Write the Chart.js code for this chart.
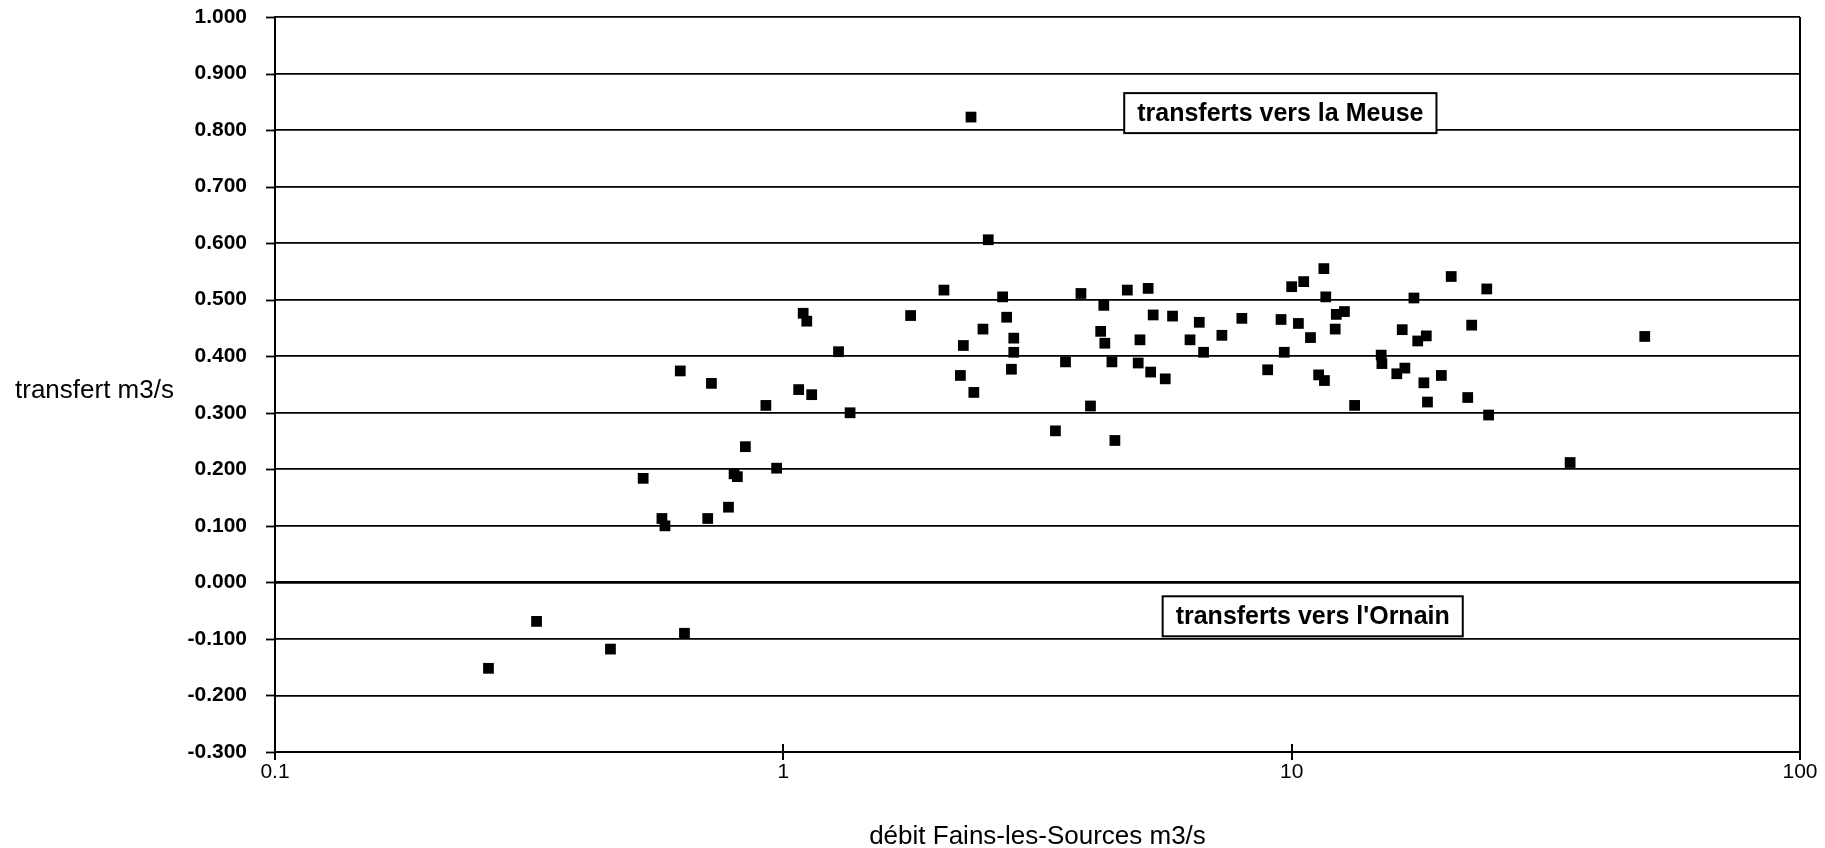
<!DOCTYPE html>
<html lang="fr">
<head>
<meta charset="utf-8">
<title>transfert m3/s</title>
<script src="https://cdn.jsdelivr.net/npm/chart.js@4.4.1/dist/chart.umd.min.js"></script>
<style>
    html, body { margin: 0; padding: 0; background: #fff; }
    #wrap { width: 1825px; height: 848px; }
</style>
</head>
<body>
<div id="wrap"><canvas id="transfertChart" width="1825" height="848"></canvas></div>
<script>
// --- Data ---
const debit = [0.263, 0.327, 0.457, 0.639, 0.530, 0.577, 0.585, 0.710, 0.780, 0.800, 0.812, 0.842, 0.970,
    0.627, 0.722, 0.924, 1.072, 1.137, 1.094, 1.112, 1.284, 1.353,
    1.78, 2.07, 2.34, 2.53, 2.26, 2.23, 2.37, 2.47, 2.70, 2.75,
    2.84, 2.84, 2.81, 3.43, 3.59, 3.85, 4.02, 4.21, 4.27, 4.29,
    4.43, 4.49, 4.75, 5.03, 4.99, 5.22, 5.28, 5.34, 5.64, 5.83,
    6.31, 6.58, 6.71, 7.29, 7.98, 8.97, 9.53, 9.67, 10.0, 10.56,
    10.31, 10.89, 11.3, 11.6, 11.57, 11.67, 12.18, 12.24, 12.7, 13.3,
    15.0, 15.05, 16.1, 16.5, 16.7, 17.4, 17.7, 18.4, 18.2, 18.5,
    19.7, 20.6, 22.2, 22.6, 24.2, 24.4, 35.3, 49.5];
const transfert = [-0.152, -0.069, -0.118, -0.090, 0.184, 0.113, 0.100, 0.113, 0.133, 0.192, 0.187, 0.240, 0.202,
    0.374, 0.352, 0.313, 0.341, 0.332, 0.476, 0.462, 0.408, 0.300,
    0.472, 0.517, 0.823, 0.606, 0.419, 0.366, 0.336, 0.448, 0.505, 0.469,
    0.432, 0.407, 0.377, 0.268, 0.390, 0.511, 0.312, 0.444, 0.490, 0.423,
    0.390, 0.251, 0.517, 0.429, 0.388, 0.520, 0.372, 0.473, 0.360, 0.471,
    0.429, 0.460, 0.407, 0.437, 0.467, 0.376, 0.465, 0.407, 0.523, 0.532,
    0.458, 0.433, 0.367, 0.357, 0.555, 0.505, 0.448, 0.474, 0.479, 0.313,
    0.402, 0.387, 0.369, 0.447, 0.379, 0.503, 0.427, 0.436, 0.353, 0.319,
    0.366, 0.541, 0.327, 0.455, 0.519, 0.296, 0.212, 0.435];

const xTickValues = [0.1, 1, 10, 100];
const xTickLabels = ['0.1', '1', '10', '100'];
const yTickValues = [-0.3, -0.2, -0.1, 0, 0.1, 0.2, 0.3, 0.4, 0.5, 0.6, 0.7, 0.8, 0.9, 1.0];
const yTickLabels = ['-0.300', '-0.200', '-0.100', '0.000', '0.100', '0.200', '0.300',
    '0.400', '0.500', '0.600', '0.700', '0.800', '0.900', '1.000'];

// text boxes inside the plot, anchored by their centre in data units
const noteTexts = ['transferts vers la Meuse', "transferts vers l'Ornain"];
const noteX = [9.5, 11.0];
const noteY = [0.83, -0.06];

const xTitle = 'débit Fains-les-Sources m3/s';
const yTitle = 'transfert m3/s';

const FONT = "'Liberation Sans', Arial, Helvetica, sans-serif";

// --- Horizontal y title, short tick marks and framed notes ---
const extrasPlugin = {
    id: 'extras',
    afterDatasetsDraw(chart) {
        const ctx = chart.ctx;
        const xs = chart.scales.x;
        const ys = chart.scales.y;
        const area = chart.chartArea;
        ctx.save();

        ctx.strokeStyle = '#000';
        ctx.lineWidth = 2;
        // the 1 and 10 ticks cross the bottom line in the scan
        xTickValues.forEach(v => {
            const px = Math.round(xs.getPixelForValue(v));
            ctx.beginPath();
            ctx.moveTo(px, area.bottom);
            ctx.lineTo(px, area.bottom - 8);
            ctx.stroke();
        });
        // short y ticks (the library ticks are kept invisible so the labels sit further out)
        ctx.lineWidth = 1.8;
        yTickValues.forEach(v => {
            const py = Math.round(ys.getPixelForValue(v)) + 0.5;
            ctx.beginPath();
            ctx.moveTo(area.left, py);
            ctx.lineTo(area.left - 9, py);
            ctx.stroke();
        });

        ctx.font = 'bold 25px ' + FONT;
        ctx.textAlign = 'center';
        ctx.textBaseline = 'middle';
        noteTexts.forEach((txt, i) => {
            const cx = xs.getPixelForValue(noteX[i]);
            const cy = ys.getPixelForValue(noteY[i]);
            const w = ctx.measureText(txt).width + 26;
            const h = 40;
            ctx.fillStyle = '#fff';
            ctx.fillRect(cx - w / 2, cy - h / 2, w, h);
            ctx.strokeStyle = '#000';
            ctx.lineWidth = 2;
            ctx.strokeRect(cx - w / 2, cy - h / 2, w, h);
            ctx.fillStyle = '#000';
            ctx.fillText(txt, cx, cy + 1);
        });

        ctx.font = '26px ' + FONT;
        ctx.textAlign = 'left';
        ctx.fillStyle = '#000';
        ctx.fillText(yTitle, 15, 391);
        ctx.restore();
    }
};

const points = debit.map((d, i) => ({ x: d, y: transfert[i] }));

new Chart(document.getElementById('transfertChart'), {
    type: 'scatter',
    data: {
        datasets: [{
            label: 'transfert',
            data: points,
            pointStyle: 'rect',
            pointRadius: 7.6,
            pointHoverRadius: 7.6,
            backgroundColor: '#000',
            borderColor: '#000',
            borderWidth: 0
        }]
    },
    options: {
        responsive: false,
        animation: false,
        layout: { padding: { left: 0, right: 25, top: 17, bottom: 0 } },
        plugins: {
            legend: { display: false },
            tooltip: { enabled: false }
        },
        scales: {
            x: {
                type: 'logarithmic',
                min: 0.1,
                max: 100,
                afterBuildTicks: scale => { scale.ticks = xTickValues.map(v => ({ value: v })); },
                afterFit: scale => { scale.height = 96; },
                border: { display: true, color: '#000', width: 2 },
                grid: {
                    drawOnChartArea: true,
                    // only the two ends of the log axis frame the plot
                    color: c => (c.tick && (c.tick.value === 0.1 || c.tick.value === 100)) ? '#000' : 'rgba(0,0,0,0)',
                    tickColor: '#000',
                    tickLength: 8,
                    lineWidth: 2
                },
                ticks: {
                    color: '#000',
                    padding: 0,
                    maxRotation: 0,
                    autoSkip: false,
                    font: { family: FONT, size: 21 },
                    callback: (v, i) => xTickLabels[i]
                },
                title: {
                    display: true,
                    text: xTitle,
                    color: '#000',
                    padding: { top: 0, bottom: -4 },
                    font: { family: FONT, size: 26 }
                }
            },
            y: {
                type: 'linear',
                min: -0.3,
                max: 1.0,
                afterBuildTicks: scale => { scale.ticks = yTickValues.map(v => ({ value: v })); },
                afterFit: scale => { scale.width = 275; },
                border: { display: true, color: '#000', width: 2 },
                grid: {
                    color: '#000',
                    tickColor: 'rgba(0,0,0,0)',
                    tickLength: 24,
                    lineWidth: c => (c.tick && c.tick.value === 0) ? 2.8 : 1.8
                },
                ticks: {
                    color: '#000',
                    padding: 4,
                    autoSkip: false,
                    font: { family: FONT, size: 21, weight: 'bold' },
                    callback: (v, i) => yTickLabels[i]
                }
            }
        }
    },
    plugins: [extrasPlugin]
});
</script>
</body>
</html>
